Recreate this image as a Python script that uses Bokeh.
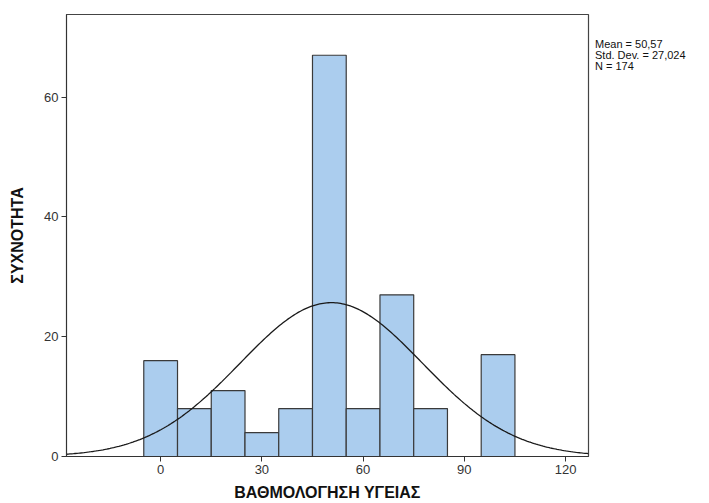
import numpy as np
from bokeh.plotting import figure
from bokeh.models import FixedTicker, Range1d, Div
from bokeh.layouts import row
from bokeh.embed import file_html
from bokeh.resources import INLINE

# Data
bin_centers = [0, 10, 20, 30, 40, 50, 60, 70, 80, 90, 100]
counts = [16, 8, 11, 4, 8, 67, 8, 27, 8, 0, 17]
bin_width = 10
mean_val = 50.57
std_val = 27.024
n_val = 174
x_ticks = [0, 30, 60, 90, 120]
y_ticks = [0, 20, 40, 60]
x_title = "ΒΑΘΜΟΛΟΓΗΣΗ ΥΓΕΙΑΣ"
y_title = "ΣΥΧΝΟΤΗΤΑ"
stats_lines = ["Mean = 50,57", "Std. Dev. = 27,024", "N = 174"]

FONT = "Liberation Sans"

p = figure(width=590, height=503, output_backend="svg", toolbar_location=None,
           x_range=Range1d(-27.9, 126.8), y_range=Range1d(0, 73.8),
           min_border_left=66, min_border_right=2, min_border_top=14, min_border_bottom=46)

lefts = [c - bin_width / 2 for c in bin_centers]
rights = [c + bin_width / 2 for c in bin_centers]
p.quad(left=lefts, right=rights, bottom=0, top=counts,
       fill_color="#abcdee", line_color="#3a3a3a", line_width=1.2)

# fitted normal curve from the reported statistics
xs = np.linspace(-27.9, 126.8, 300)
ys = n_val * bin_width / (std_val * np.sqrt(2 * np.pi)) * np.exp(-0.5 * ((xs - mean_val) / std_val) ** 2)
p.line(xs, ys, line_color="#1a1a1a", line_width=1.3)

p.xgrid.visible = False
p.ygrid.visible = False
p.outline_line_color = "#444444"
p.outline_line_width = 1.2

for ax in (p.xaxis[0], p.yaxis[0]):
    ax.minor_tick_line_color = None
    ax.major_tick_in = 0
    ax.major_tick_out = 5
    ax.major_tick_line_color = "#333333"
    ax.axis_line_color = "#333333"
    ax.major_label_text_font = FONT
    ax.major_label_text_font_size = "13px"
    ax.major_label_text_color = "#333333"
    ax.axis_label_text_font = FONT
    ax.axis_label_text_font_size = "16px"
    ax.axis_label_text_font_style = "bold"
    ax.axis_label_text_color = "#111111"

p.xaxis.ticker = FixedTicker(ticks=x_ticks)
p.yaxis.ticker = FixedTicker(ticks=y_ticks)
p.xaxis.axis_label = x_title
p.yaxis.axis_label = y_title
p.xaxis.major_label_standoff = 3
p.xaxis.axis_label_standoff = 7
p.yaxis.major_label_standoff = 3
p.yaxis.axis_label_standoff = 15

stats_html = "<br>".join(stats_lines)
div = Div(text=stats_html, width=119, height=503, margin=(0, 0, 0, 0),
          styles={"font-family": FONT, "font-size": "11px", "line-height": "11px",
                  "color": "#111111", "padding-top": "39px", "padding-left": "5px"})

layout = row(p, div, spacing=0)
open("out.html", "w").write(file_html(layout, INLINE))
